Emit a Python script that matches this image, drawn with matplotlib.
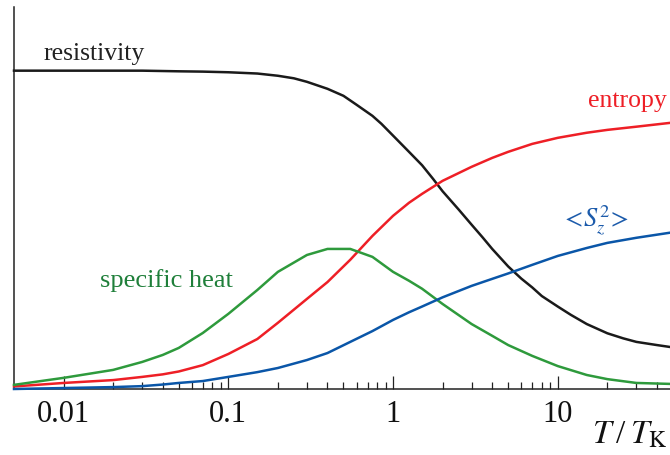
import matplotlib
matplotlib.use("Agg")
import matplotlib.pyplot as plt
from matplotlib.ticker import FixedLocator, NullFormatter

# ---- data ----
T_res = [0.005, 0.01, 0.02, 0.03, 0.05, 0.07, 0.1, 0.15, 0.2, 0.25, 0.3, 0.4,
         0.5, 0.6, 0.75, 0.85, 1.0, 1.25, 1.5, 1.75, 2, 2.5, 3, 3.5, 4, 5, 6,
         7, 8, 10, 12, 15, 20, 25, 30, 40, 48]
resistivity = [1.000, 1.000, 1.000, 1.000, 0.998, 0.997, 0.995, 0.991, 0.984,
               0.976, 0.965, 0.943, 0.921, 0.893, 0.858, 0.833, 0.796, 0.745,
               0.703, 0.660, 0.621, 0.564, 0.516, 0.476, 0.440, 0.385, 0.347,
               0.319, 0.292, 0.259, 0.233, 0.204, 0.175, 0.159, 0.148, 0.138,
               0.132]

T = [0.005, 0.01, 0.02, 0.03, 0.04, 0.05, 0.07, 0.1, 0.15, 0.2, 0.3, 0.4,
     0.55, 0.75, 1.0, 1.25, 1.5, 2, 3, 4, 5, 7, 10, 15, 20, 30, 48]
entropy = [0.008, 0.019, 0.028, 0.038, 0.046, 0.055, 0.075, 0.110, 0.157,
           0.208, 0.283, 0.336, 0.406, 0.481, 0.544, 0.585, 0.613, 0.654,
           0.698, 0.726, 0.745, 0.770, 0.789, 0.805, 0.814, 0.824, 0.836]
specific_heat = [0.013, 0.035, 0.060, 0.085, 0.107, 0.129, 0.176, 0.236,
                 0.311, 0.368, 0.421, 0.440, 0.440, 0.415, 0.368, 0.340,
                 0.315, 0.267, 0.204, 0.167, 0.138, 0.104, 0.072, 0.044,
                 0.031, 0.019, 0.016]
sz2 = [0.000, 0.003, 0.006, 0.009, 0.014, 0.019, 0.025, 0.038, 0.053, 0.066,
       0.091, 0.113, 0.148, 0.182, 0.217, 0.241, 0.259, 0.288, 0.324, 0.346,
       0.363, 0.390, 0.418, 0.443, 0.459, 0.475, 0.491]

major_ticks = [0.01, 0.1, 1, 10]
major_labels = ["0.01", "0.1", "1", "10"]

plt.rcParams['font.family'] = ['Liberation Serif', 'DejaVu Serif']
plt.rcParams['mathtext.fontset'] = 'stix'

fig = plt.figure(figsize=(6.7, 4.55), dpi=100)
ax = fig.add_axes([14/670, 66/455, 1 - 14/670, (389 - 7)/455])

c_black = "#1a1a1a"
c_red = "#ee1f26"
c_green = "#2e9a3c"
c_blue = "#0a56a8"

ax.plot(T_res, resistivity, color=c_black, lw=1.8, clip_on=False, zorder=3)
ax.plot(T, entropy, color=c_red, lw=1.8, clip_on=False, zorder=3)
ax.plot(T, specific_heat, color=c_green, lw=1.8, clip_on=False, zorder=3)
ax.plot(T, sz2, color=c_blue, lw=1.8, clip_on=False, zorder=3)

ax.set_xscale('log')
ax.set_xlim(0.005, 48)
ax.set_ylim(0, 1.2)

for s in ['top', 'right']:
    ax.spines[s].set_visible(False)
for s in ['left', 'bottom']:
    ax.spines[s].set_linewidth(1.1)
    ax.spines[s].set_color("#222222")

ax.xaxis.set_major_locator(FixedLocator(major_ticks))
ax.set_xticklabels(major_labels)
minor = [k * 10.0**e for e in range(-2, 2) for k in range(2, 10)]
ax.xaxis.set_minor_locator(FixedLocator(minor))
ax.xaxis.set_minor_formatter(NullFormatter())
ax.tick_params(axis='x', which='major', direction='in', length=9.5, width=0.9,
               labelsize=22, pad=8, colors="#222222", labelcolor="#111111")
ax.tick_params(axis='x', which='minor', direction='in', length=5, width=0.9,
               colors="#222222")
ax.set_yticks([])

ax.text(0.0075, 1.035, "resistivity", fontsize=18.5, color="#222222",
        ha='left', va='baseline')
ax.text(46.1, 0.887, "entropy", fontsize=18.5, color=c_red,
        ha='right', va='baseline')
ax.text(0.0166, 0.321, "specific heat", fontsize=19, color="#1f7f3a",
        ha='left', va='baseline')
ax.text(10.4, 0.509, r"${<}\!S_z^{2}\!{>}$", fontsize=19, color="#1c5bab",
        ha='left', va='baseline')

# x-axis label "T / T_K" placed piecewise at the lower right
yb = (455 - 443) / 455
fig.text(592/670, yb, r"$T$", fontsize=24, color="#111111",
         ha='left', va='baseline')
fig.text(616/670, yb, "/", fontsize=24, color="#111111",
         ha='left', va='baseline')
fig.text(630/670, yb, r"$T_{\mathrm{K}}$", fontsize=24, color="#111111",
         ha='left', va='baseline')

fig.savefig("out.png", dpi=100)
